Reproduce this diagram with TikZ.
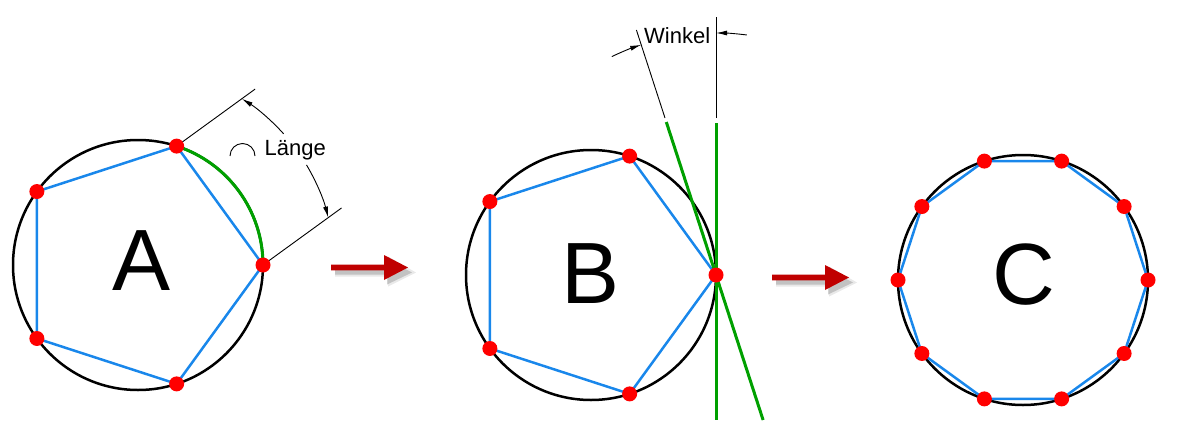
\documentclass[tikz,border=0pt]{standalone}
\usepackage{fontspec}
\setmainfont{Liberation Sans}
\usetikzlibrary{arrows.meta,calc}
\definecolor{cblue}{RGB}{25,135,235}
\definecolor{cgreen}{RGB}{0,160,0}
\definecolor{cred}{RGB}{255,0,0}
\definecolor{darr}{RGB}{192,0,0}
\newcommand\myredarrow[1]{%
  \begin{scope}[shift={#1}]
    \fill[black!70,opacity=0.12] (4,-1.5)--(57,-1.5)--(57,-11)--(85,5)--(57,19)--(57,9)--(4,9)--cycle;
    \fill[black!70,opacity=0.25] (4,0.5)--(56,0.5)--(56,-8)--(81,5)--(56,17)--(56,7)--(4,7)--cycle;
    \fill[darr] (0,-2.9)--(53,-2.9)--(53,-12.5)--(77,0)--(53,12.5)--(53,2.9)--(0,2.9)--cycle;
  \end{scope}}
\begin{document}
\begin{tikzpicture}[x=1pt,y=-1pt,
  circ/.style={draw=black,line width=2.5pt},
  edge/.style={draw=cblue,line width=2.5pt,line join=round},
  grn/.style={draw=cgreen,line width=3pt},
  dot/.style={fill=cred},
  thinln/.style={draw=black,line width=0.9pt},
  dimarr/.style={thinln,-{Latex[length=11pt,width=5pt]}},
  big/.style={font=\fontsize{87}{90}\selectfont,inner sep=0pt,anchor=base},
  lab/.style={font=\fontsize{22}{25}\selectfont,inner sep=0pt,anchor=base west}]
\useasboundingbox (0,0) rectangle (1188,447);

% ---------- A ----------
\begin{scope}[shift={(138,265)},yscale=-1]
  \foreach \i in {0,...,4} \coordinate (a\i) at (\i*72:125);
  \draw[circ] (0,0) circle (125);
  \draw[edge] (a0)--(a1)--(a2)--(a3)--(a4)--cycle;
  \draw[grn] (a1) arc (72:0:125);
  \coordinate (ea1) at (117.1,175.9);
  \coordinate (ea0) at (203.5,57.0);
  \draw[thinln] (a1)--(ea1);
  \draw[thinln] (a0)--(ea0);
  \draw[dimarr] (42:196) arc (42:58:196);
  \draw[dimarr] (30.7:196) arc (30.7:14:196);
  \foreach \i in {0,...,4} \fill[dot] (a\i) circle (7.5);
\end{scope}
\node[big] (lA) at (141.5,290) {A};
\draw[thinln] (230,156) arc (180:360:12.5);
\node[lab] (lLaenge) at (264.5,155) {Länge};

\myredarrow{(331,267.5)}

% ---------- B ----------
\begin{scope}[shift={(591,275)},yscale=-1]
  \foreach \i in {0,...,4} \coordinate (b\i) at (\i*72:125);
  \draw[circ] (0,0) circle (125);
  \draw[edge] (b0)--(b1)--(b2)--(b3)--(b4)--cycle;
  \coordinate (gvt) at (125,152);
  \coordinate (gvb) at (125,-145);
  \coordinate (gtt) at (75.3,153);
  \coordinate (gtb) at (172.1,-145);
  \draw[grn] (gvt)--(gvb);
  \draw[grn] (gtt)--(gtb);
  \coordinate (xvt) at (125,258);
  \coordinate (xvb) at (125,157);
  \coordinate (xtt) at (45.4,245);
  \coordinate (xtb) at (74,157);
  \draw[thinln] (xvb)--(xvt);
  \draw[thinln] (xtb)--(xtt);
  \begin{scope}[shift={(125,0)}]
    \draw[dimarr] (115.5:242) arc (115.5:108:242);
    \draw[dimarr] (82.7:242) arc (82.7:90:242);
  \end{scope}
  \foreach \i in {0,...,4} \fill[dot] (b\i) circle (7.5);
\end{scope}
\node[big] (lB) at (590.5,303) {B};
\node[lab] (lWinkel) at (644,43.3) {Winkel};

\myredarrow{(772,277.5)}

% ---------- C ----------
\begin{scope}[shift={(1023,280)},yscale=-1]
  \foreach \i in {0,...,9} \coordinate (c\i) at (\i*36:125);
  \draw[circ] (0,0) circle (125);
  \draw[edge] (c0)--(c1)--(c2)--(c3)--(c4)--(c5)--(c6)--(c7)--(c8)--(c9)--cycle;
  \foreach \i in {0,...,9} \fill[dot] (c\i) circle (7.5);
\end{scope}
\node[big] (lC) at (1024,304.5) {C};
\end{tikzpicture}
\end{document}
